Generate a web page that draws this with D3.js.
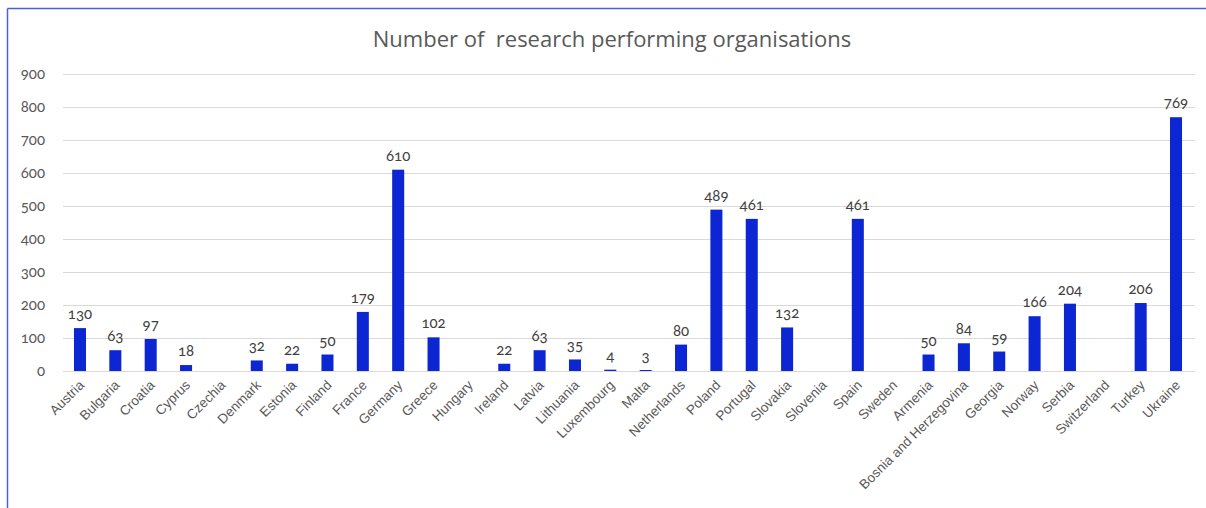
<!DOCTYPE html>
<html>
<head>
<meta charset="utf-8">
<script src="https://cdn.jsdelivr.net/npm/d3@7"></script>
<style>
  html, body { margin: 0; padding: 0; background: #fff; }
  svg { display: block; font-family: "Open Sans", "Noto Sans", sans-serif; }
  .num { font-family: Lato, "Open Sans", sans-serif; font-feature-settings: "onum" 1; font-variant-numeric: oldstyle-nums; }
</style>
</head>
<body>
<svg id="chart" width="1206" height="508"></svg>
<script>
const countries = ["Austria","Bulgaria","Croatia","Cyprus","Czechia","Denmark","Estonia","Finland","France","Germany","Greece","Hungary","Ireland","Latvia","Lithuania","Luxembourg","Malta","Netherlands","Poland","Portugal","Slovakia","Slovenia","Spain","Sweden","Armenia","Bosnia and Herzegovina","Georgia","Norway","Serbia","Switzerland","Turkey","Ukraine"];
const values = [130,63,97,18,0,32,22,50,179,610,102,0,22,63,35,4,3,80,489,461,132,0,461,0,50,84,59,166,204,0,206,769];
const yTicks = [0,100,200,300,400,500,600,700,800,900];
const title = "Number of  research performing organisations";

const svg = d3.select("#chart");
const W = 1206, H = 508;

// frame lines
svg.append("line").attr("x1", 7.5).attr("x2", W).attr("y1", 8.5).attr("y2", 8.5)
  .attr("stroke", "#4d5fd9").attr("stroke-width", 1.5);
svg.append("line").attr("x1", 7.5).attr("x2", 7.5).attr("y1", 8.5).attr("y2", H)
  .attr("stroke", "#4d5fd9").attr("stroke-width", 1.5);

const x = d3.scaleBand().domain(countries).range([62.3, 1193.7]).paddingInner(0.66).paddingOuter(0.33);
const y = d3.scaleLinear().domain([0, 900]).range([371, 74]);

svg.append("text").attr("x", 612).attr("y", 47).attr("text-anchor", "middle")
  .attr("font-size", 22).attr("fill", "#595959").style("white-space", "pre").text(title);

// gridlines
const yAxis = d3.axisLeft(y).tickValues(yTicks).tickSize(-(1195 - 63)).tickPadding(18).tickFormat(d3.format("d"));
const gy = svg.append("g").attr("transform", "translate(63,0)").call(yAxis);
gy.select(".domain").remove();
gy.selectAll(".tick line").attr("stroke", "#d9d9d9").attr("stroke-width", 1.2);
gy.selectAll(".tick text").attr("class", "num").attr("fill", "#595959").style("font-size", "15px");

// bars
svg.append("g").selectAll("rect").data(countries).join("rect")
  .attr("x", (d) => x(d))
  .attr("width", x.bandwidth())
  .attr("y", (d, i) => y(values[i]))
  .attr("height", (d, i) => y(0) - y(values[i]))
  .attr("fill", "#0c26d3");

// value labels
svg.append("g").selectAll("text").data(countries.filter((d, i) => values[i] > 0)).join("text")
  .attr("class", "num")
  .attr("x", (d) => x(d) + x.bandwidth() / 2)
  .attr("y", (d) => y(values[countries.indexOf(d)]) - 9)
  .attr("text-anchor", "middle").style("font-size", "15px").attr("fill", "#404040")
  .text((d) => values[countries.indexOf(d)]);

// x axis
const xAxis = d3.axisBottom(x).tickSize(0).tickPadding(0);
const gx = svg.append("g").attr("transform", "translate(0,371)").call(xAxis);
gx.select(".domain").remove();
gx.selectAll(".tick text")
  .style("font-size", "13.5px").attr("fill", "#595959")
  .attr("text-anchor", "end")
  .attr("dy", 0).attr("y", 0)
  .attr("transform", "translate(5,15) rotate(-45)");
</script>
</body>
</html>
